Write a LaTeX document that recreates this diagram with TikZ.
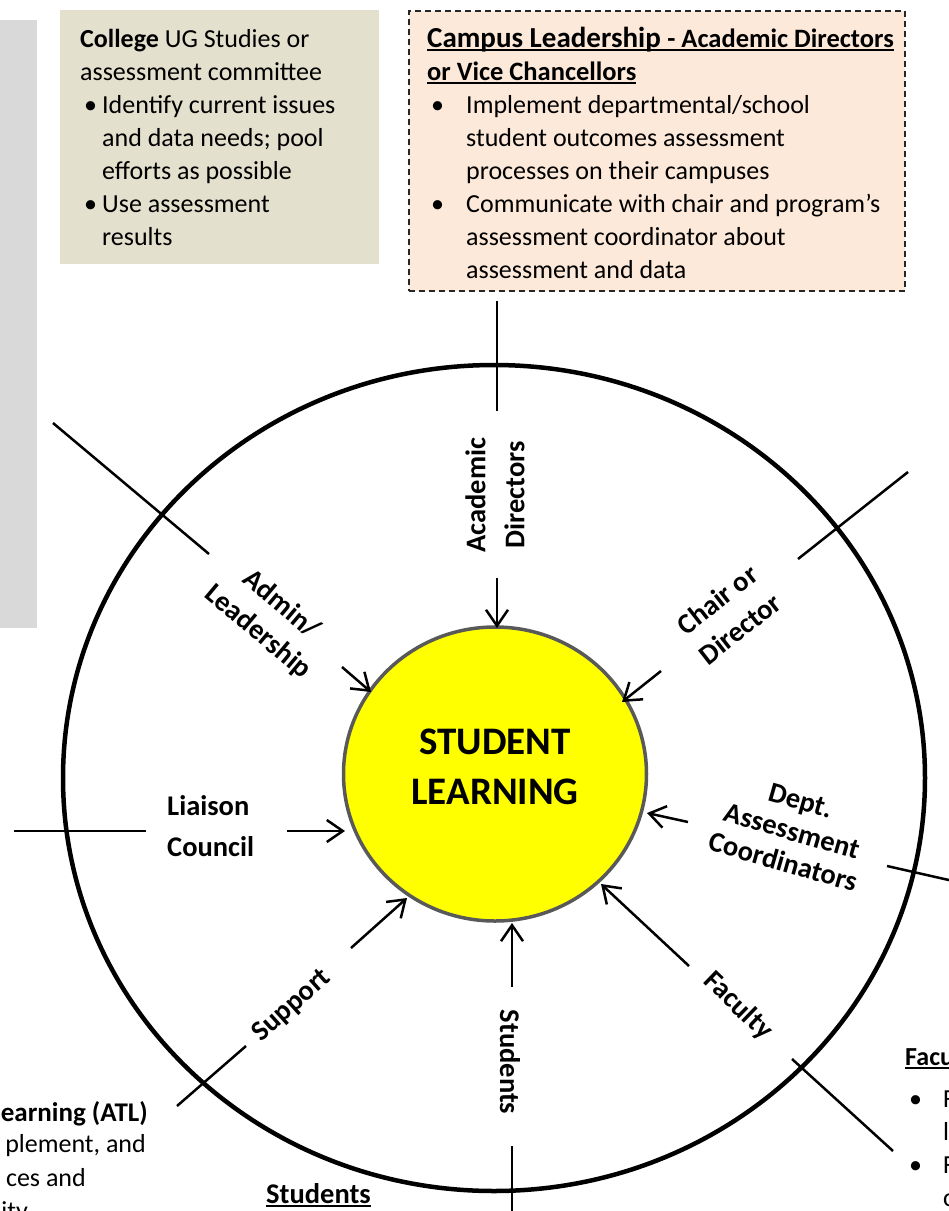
\documentclass[tikz,border=0pt]{standalone}
\usepackage{fontspec}
\setmainfont{Carlito}
\usetikzlibrary{arrows.meta,shapes.geometric}

\definecolor{khaki}{HTML}{E3E0CD}
\definecolor{peach}{HTML}{FDE9D9}
\definecolor{panelgrey}{HTML}{D9D9D9}
\definecolor{rimgrey}{HTML}{595959}
\definecolor{coreyellow}{RGB}{255,255,0}

% thick underline drawn under a box of text
\newcommand\thickul[1]{\setbox0\hbox{#1}\rlap{\rule[-4pt]{\wd0}{2pt}}\box0}
% bullet item helpers
\newcommand\bulitem[2]{\makebox[#1][l]{\hspace*{4pt}\textbullet}#2}
\newcommand\contline[2]{\hspace*{#1}#2}

\tikzset{
  spoke/.style={line width=2.5pt},
  feed/.style={line width=2.5pt,-{Straight Barb[length=16pt,width=22pt]}},
  lbl/.style={font=\fontsize{28.5}{#1}\selectfont\bfseries, inner sep=0pt},
  lbl/.default=34,
  body/.style={font=\fontsize{26}{33}\selectfont, inner sep=0pt, anchor=base west},
}

\begin{document}
\begin{tikzpicture}[x=1pt,y=-1pt]
\useasboundingbox (0,0) rectangle (949,1211);
\clip (0,0) rectangle (949,1211);

% grey side panel
\node[fill=panelgrey, anchor=north west, inner sep=0, minimum width=37pt, minimum height=608pt] (panel) at (0,20) {};

% college committee box
\node[fill=khaki, anchor=north west, inner sep=0, minimum width=319pt, minimum height=254pt] (college) at (60,10) {};
\node[body] (collegetxt) at (80,47) {\begin{tabular}[t]{@{}l@{}}
\textbf{College} UG Studies or\\
assessment committee\\
\bulitem{22pt}{Identify current issues}\\
\contline{22pt}{and data needs; pool}\\
\contline{22pt}{efforts as possible}\\
\bulitem{22pt}{Use assessment}\\
\contline{22pt}{results}
\end{tabular}};

% campus leadership box
\node[fill=peach, draw=black!85, line width=1.8pt, dash pattern=on 6pt off 4pt,
      anchor=north west, inner sep=0, minimum width=496pt, minimum height=280pt] (campus) at (408,10) {};
\node[body] (campustxt) at (427,47) {\begin{tabular}[t]{@{}l@{}}
\thickul{\bfseries\fontsize{29}{33}\selectfont Campus Leadership {\fontsize{26.5}{33}\selectfont - Academic Directors}}\\
\thickul{\bfseries\fontsize{26.5}{33}\selectfont or Vice Chancellors}\\
\bulitem{39pt}{Implement departmental/school}\\
\contline{39pt}{student outcomes assessment}\\
\contline{39pt}{processes on their campuses}\\
\bulitem{39pt}{Communicate with chair and program’s}\\
\contline{39pt}{assessment coordinator about}\\
\contline{39pt}{assessment and data}
\end{tabular}};

% outer ring and centre
\node[draw, ellipse, line width=4.5pt, inner sep=0, minimum width=862pt, minimum height=826pt] (ring) at (494,778) {};
\node[draw=rimgrey, fill=coreyellow, ellipse, line width=3.5pt, inner sep=0, minimum width=303pt, minimum height=294pt] (core) at (495,774) {};
\node[font=\fontsize{39}{50}\selectfont\bfseries, inner sep=0] (corelbl) at (495,769)
  {\begin{tabular}{@{}c@{}}STUDENT\\LEARNING\end{tabular}};

% spokes crossing the ring
\coordinate (sTopA) at (497,301);   \coordinate (sTopB) at (497,411);
\coordinate (sULA) at (53,423);     \coordinate (sULB) at (209,554);
\coordinate (sURA) at (798,559);    \coordinate (sURB) at (908,472);
\coordinate (sLA) at (14,831);      \coordinate (sLB) at (146,831);
\coordinate (sRA) at (887,866);     \coordinate (sRB) at (962,883);
\coordinate (sLLA) at (177,1106);   \coordinate (sLLB) at (246,1046);
\coordinate (sBA) at (512,1146);    \coordinate (sBB) at (512,1220);
\coordinate (sLRA) at (792,1059);   \coordinate (sLRB) at (893,1151);
\foreach \a/\b in {sTopA/sTopB, sULA/sULB, sURA/sURB, sLA/sLB, sRA/sRB, sLLA/sLLB, sBA/sBB, sLRA/sLRB}
  \draw[spoke] (\a) -- (\b);

% arrows into the centre
\coordinate (aAcT) at (497,578);  \coordinate (aAcH) at (497,628);
\coordinate (aAdT) at (342,667);  \coordinate (aAdH) at (371,692);
\coordinate (aChT) at (661,671);  \coordinate (aChH) at (622,702);
\coordinate (aLiT) at (287,831);  \coordinate (aLiH) at (345,831);
\coordinate (aDeT) at (688,822);  \coordinate (aDeH) at (647,813);
\coordinate (aSuT) at (351,948);  \coordinate (aSuH) at (407,898);
\coordinate (aStT) at (512,987);  \coordinate (aStH) at (512,923);
\coordinate (aFaT) at (689,966);  \coordinate (aFaH) at (601,884);
\foreach \a/\b in {aAcT/aAcH, aAdT/aAdH, aChT/aChH, aLiT/aLiH, aDeT/aDeH, aSuT/aSuH, aStT/aStH, aFaT/aFaH}
  \draw[feed] (\a) -- (\b);

% spoke labels
\node[lbl=39, rotate=90] (acadlbl) at (497,495) {\begin{tabular}{@{}c@{}}Academic\\Directors\end{tabular}};
\node[lbl=36, rotate=-40] (adminlbl) at (269,619) {\begin{tabular}{@{}c@{}}Admin/\\Leadership\end{tabular}};
\node[lbl=37, rotate=38] (chairlbl) at (730,616) {\begin{tabular}{@{}c@{}}Chair or\\Director\end{tabular}};
\node[lbl=41, anchor=base west] (liaisonlbl) at (167,815) {\begin{tabular}[t]{@{}l@{}}Liaison\\Council\end{tabular}};
\node[lbl=32, rotate=-16] (deptlbl) at (791,834) {\begin{tabular}{@{}c@{}}Dept.\\Assessment\\Coordinators\end{tabular}};
\node[lbl, rotate=42] (supportlbl) at (292,1006) {Support};
\node[lbl, rotate=-90] (studentslbl) at (510,1062) {Students};
\node[lbl, rotate=-44] (facultylbl) at (738,1006) {Faculty};

% text running off the lower left
\node[body, font=\fontsize{27}{33}\selectfont, anchor=base east] (atlA) at (148,1121) {\textbf{earning (ATL)}};
\node[body, anchor=base east] (atlB) at (146,1152) {plement, and};
\node[body, anchor=base east] (atlC) at (86,1186) {ces and};
\node[body, anchor=base east] (atlD) at (28,1219) {ity};

% students heading
\node[body, font=\fontsize{28.5}{33}\selectfont\bfseries] (stuhead) at (266,1203) {\thickul{Students}};

% faculty notes running off the right
\node[body, font=\fontsize{26}{33}\selectfont\bfseries] (fachead) at (905,1065) {\thickul{Facu}};
\node[body] (factxt) at (905,1107) {\begin{tabular}[t]{@{}l@{}}
\bulitem{38pt}{F}\\
\contline{38pt}{l}\\
\bulitem{38pt}{F}\\
\contline{38pt}{c}
\end{tabular}};
\end{tikzpicture}
\end{document}
